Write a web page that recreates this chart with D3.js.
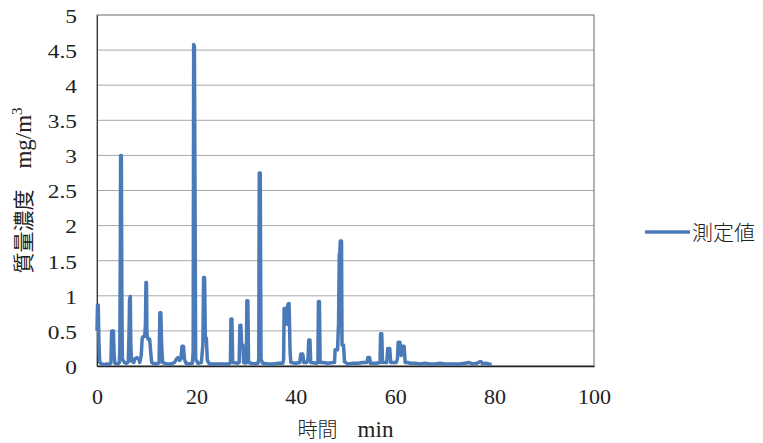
<!DOCTYPE html>
<html>
<head>
<meta charset="utf-8">
<script src="https://cdn.jsdelivr.net/npm/d3@7"></script>
<style>
  body { margin: 0; background: #fff; }
  svg { display: block; }
  .serif { font-family: "Liberation Serif", "DejaVu Serif", "Times New Roman", serif; }
</style>
</head>
<body>
<svg id="chart"></svg>
<script>
// measured series: time in minutes, mass concentration in mg/m3
var timeMin = [
  0, 0.1, 0.25, 0.4, 0.55, 1, 1.5, 2, 2.6,
  2.8, 2.95, 3.3, 3.45, 3.6, 4.2, 4.5,
  4.6, 4.7, 4.75, 4.9, 5.0, 5.1, 5.5, 6.0, 6.3,
  6.45, 6.55, 6.7, 6.8, 6.95, 7.4,
  7.6, 8.0, 8.4, 8.6, 8.9,
  9.1, 9.3, 9.6, 9.75, 9.85, 9.95, 10.05, 10.3, 10.6, 10.8, 11.0, 11.5, 12.3,
  12.5, 12.65, 12.85, 13.0, 13.2, 14, 15, 15.6, 16, 16.3, 16.6, 16.9, 17.1, 17.4, 17.6, 17.9, 18.5, 19.2,
  19.35, 19.45, 19.6, 19.75, 19.85, 20.3, 21.0,
  21.3, 21.45, 21.65, 21.8, 22.0, 22.2, 22.6, 23.5, 24.5, 25.5, 26.6,
  26.85, 26.95, 27.15, 27.3, 28.3,
  28.6, 28.75, 28.95, 29.1, 29.35, 29.5, 29.9,
  30.05, 30.15, 30.35, 30.5, 31.5, 32.4,
  32.55, 32.65, 32.85, 33.0, 33.3, 34.5, 35.5, 36.5, 37.4,
  37.55, 37.65, 38.0, 38.2, 38.4, 38.65, 38.85, 39.0, 40, 40.8,
  41.0, 41.4, 41.6, 42.2,
  42.45, 42.6, 42.85, 43.0, 44.2,
  44.45, 44.55, 44.75, 44.9, 45.5, 46.5, 47.5,
  47.8, 47.9, 48.4, 48.6, 48.75, 48.85, 48.95, 49.2, 49.3, 49.6, 49.8, 50.5, 51.5, 52.5, 53.5, 54.3,
  54.5, 54.85, 55.0, 56.2,
  56.95, 57.05, 57.3, 57.45, 58.3,
  58.5, 58.9, 59.1, 60.2,
  60.45, 60.6, 60.95, 61.2, 61.4, 61.8, 62.0, 62.5, 63, 64, 65, 66, 67, 68, 69, 70,
  71, 72, 73, 74, 74.9, 75.5, 76.5, 77.0, 77.3, 77.6, 78.2, 78.8, 79.4
];
var massConc = [
  0.5, 0.87, 0.87, 0.3, 0.05, 0.03, 0.02, 0.03, 0.03,
  0.04, 0.5, 0.5, 0.15, 0.04, 0.03, 0.05,
  0.3, 1.75, 3.0, 3.0, 1.0, 0.1, 0.05, 0.04, 0.06,
  0.5, 0.95, 0.99, 0.3, 0.07, 0.05,
  0.1, 0.12, 0.1, 0.05, 0.15,
  0.4, 0.42, 0.42, 0.6, 1.19, 1.19, 0.45, 0.38, 0.38, 0.2, 0.05, 0.03, 0.04,
  0.05, 0.76, 0.76, 0.3, 0.05, 0.03, 0.03, 0.05, 0.1, 0.12, 0.08, 0.1, 0.28, 0.28, 0.1, 0.04, 0.03, 0.04,
  0.2, 4.58, 4.55, 2.0, 0.1, 0.04, 0.05,
  0.3, 1.26, 1.26, 0.4, 0.4, 0.08, 0.03, 0.03, 0.03, 0.03, 0.03,
  0.05, 0.67, 0.67, 0.05, 0.04,
  0.05, 0.58, 0.58, 0.3, 0.3, 0.05, 0.04,
  0.05, 0.93, 0.93, 0.05, 0.03, 0.04,
  0.1, 2.75, 2.75, 0.1, 0.04, 0.03, 0.03, 0.04, 0.04,
  0.1, 0.82, 0.82, 0.6, 0.88, 0.89, 0.2, 0.05, 0.04, 0.05,
  0.17, 0.17, 0.05, 0.05,
  0.1, 0.37, 0.37, 0.05, 0.04,
  0.05, 0.92, 0.92, 0.05, 0.05, 0.04, 0.05,
  0.05, 0.23, 0.23, 0.6, 1.6, 1.6, 1.78, 1.78, 0.3, 0.3, 0.06, 0.03, 0.04, 0.04, 0.05, 0.05,
  0.12, 0.12, 0.04, 0.04,
  0.05, 0.46, 0.46, 0.05, 0.05,
  0.25, 0.25, 0.05, 0.05,
  0.1, 0.34, 0.34, 0.15, 0.28, 0.28, 0.05, 0.05, 0.04, 0.04, 0.03, 0.04, 0.03, 0.03, 0.04, 0.03,
  0.03, 0.03, 0.03, 0.04, 0.05, 0.03, 0.04, 0.06, 0.06, 0.03, 0.04, 0.03, 0.02
];
var yTicks = [0, 0.5, 1, 1.5, 2, 2.5, 3, 3.5, 4, 4.5, 5];
var xTicks = [0, 20, 40, 60, 80, 100];
var seriesName = "測定値";

var width = 763, height = 443;
var plot = { left: 97, top: 15, right: 594, bottom: 366 };
var lineColor = "#4a7ab8";

var svg = d3.select("#chart")
    .attr("width", width)
    .attr("height", height);

var x = d3.scaleLinear().domain([0, 100]).range([plot.left, plot.right]);
var y = d3.scaleLinear().domain([0, 5]).range([plot.bottom, plot.top]);

// horizontal gridlines
svg.append("g")
    .selectAll("line")
    .data(yTicks.filter(function(d) { return d > 0 && d < 5; }))
    .enter()
    .append("line")
    .attr("x1", plot.left)
    .attr("x2", plot.right)
    .attr("y1", function(d) { return y(d); })
    .attr("y2", function(d) { return y(d); })
    .style("stroke", "#a8a8a8")
    .style("stroke-width", 1);

// frame
svg.append("rect")
    .attr("x", plot.left)
    .attr("y", plot.top)
    .attr("width", plot.right - plot.left)
    .attr("height", plot.bottom - plot.top)
    .style("fill", "none")
    .style("stroke", "#666")
    .style("stroke-width", 1);

// y axis
var yAxis = svg.append("g")
    .attr("transform", "translate(" + plot.left + ",0)")
    .attr("font-family", null)
    .call(d3.axisLeft(y).tickValues(yTicks).tickSize(0).tickPadding(0)
        .tickFormat(function(d) { return String(d); }));
yAxis.select(".domain").style("stroke", "#333");
yAxis.selectAll("text")
    .attr("class", "serif")
    .attr("x", 0)
    .attr("dy", "0.35em")
    .attr("transform", "translate(-20,1) scale(1.3,1)")
    .style("font-size", "18px")
    .style("fill", "#222");

// x axis
var xAxis = svg.append("g")
    .attr("transform", "translate(0," + plot.bottom + ")")
    .call(d3.axisBottom(x).tickValues(xTicks).tickSize(0).tickPadding(22));
xAxis.select(".domain").style("stroke", "#222").style("stroke-width", 1.3);
xAxis.selectAll("text")
    .attr("class", "serif")
    .style("font-size", "22px")
    .style("fill", "#222");

// series line
var points = timeMin.map(function(t, i) { return [t, massConc[i]]; });
var line = d3.line()
    .x(function(d) { return x(d[0]); })
    .y(function(d) { return y(d[1]); });
svg.append("path")
    .datum(points)
    .attr("d", line)
    .style("fill", "none")
    .style("stroke", lineColor)
    .style("stroke-width", 3.5)
    .style("stroke-linejoin", "round");

// axis titles
var xTitle = svg.append("text")
    .attr("x", (plot.left + plot.right) / 2)
    .attr("y", 437)
    .attr("text-anchor", "middle")
    .style("fill", "#222");
xTitle.append("tspan")
    .style("font-family", "'Noto Sans CJK JP', sans-serif")
    .style("font-size", "20px")
    .style("font-weight", 300)
    .text("時間　");
xTitle.append("tspan")
    .attr("class", "serif")
    .style("font-size", "23px")
    .text("min");

var yTitle = svg.append("text")
    .attr("transform", "translate(31," + ((plot.top + plot.bottom) / 2) + ") rotate(-90)")
    .attr("text-anchor", "middle")
    .style("fill", "#222");
yTitle.append("tspan")
    .style("font-family", "'Noto Sans CJK JP', sans-serif")
    .style("font-size", "21px")
    .text("質量濃度　");
yTitle.append("tspan")
    .attr("class", "serif")
    .style("font-size", "23px")
    .text("mg/m");
yTitle.append("tspan")
    .attr("class", "serif")
    .style("font-size", "15px")
    .attr("dy", "-0.6em")
    .text("3");

// legend
var legend = svg.append("g").attr("transform", "translate(645,232)");
legend.append("line")
    .attr("x1", 0).attr("x2", 45)
    .style("stroke", lineColor)
    .style("stroke-width", 3.5);
legend.append("text")
    .attr("x", 47)
    .attr("dy", "0.36em")
    .style("font-family", "'Noto Sans CJK JP', sans-serif")
    .style("font-size", "21px")
    .style("font-weight", 300)
    .style("fill", "#222")
    .text(seriesName);
</script>
</body>
</html>
